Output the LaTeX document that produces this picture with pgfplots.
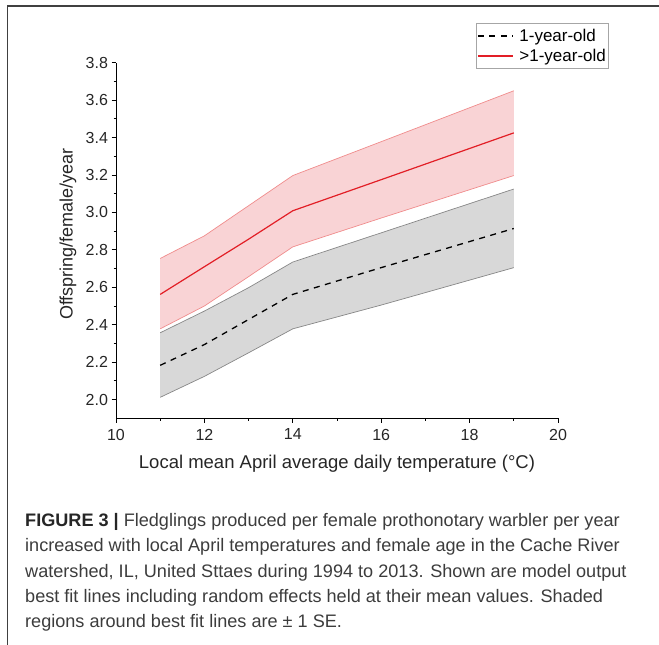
\documentclass[border=0pt]{standalone}
\usepackage{fontspec}
\setmainfont{Liberation Sans}
\usepackage{pgfplots}
\pgfplotsset{compat=1.18}
\usepackage{pgfplotstable}

\definecolor{redline}{RGB}{226,30,38}
\definecolor{redfill}{RGB}{249,211,213}
\definecolor{rededge}{RGB}{240,140,140}
\definecolor{grayfill}{RGB}{216,216,216}
\definecolor{grayedge}{RGB}{135,135,135}
\definecolor{framecol}{RGB}{64,64,64}
\definecolor{captxt}{RGB}{60,60,60}

\pgfplotstableread{
x  lo    mid   hi
11 2.378 2.562 2.754
12 2.500 2.710 2.875
13 2.657 2.857 3.036
14 2.816 3.009 3.197
16 2.970 3.175 3.378
19 3.197 3.425 3.650
}\redtab

\pgfplotstableread{
x  lo    mid   hi
11 2.012 2.183 2.357
12 2.124 2.294 2.473
13 2.250 2.428 2.598
14 2.378 2.562 2.735
16 2.505 2.705 2.891
19 2.705 2.914 3.125
}\graytab

% band outlines: upper edge left to right, lower edge right to left
\pgfplotstableread{
x  y
11 2.754
12 2.875
13 3.036
14 3.197
16 3.378
19 3.650
19 3.197
16 2.970
14 2.816
13 2.657
12 2.500
11 2.378
}\redband

\pgfplotstableread{
x  y
11 2.357
12 2.473
13 2.598
14 2.735
16 2.891
19 3.125
19 2.705
16 2.505
14 2.378
13 2.250
12 2.124
11 2.012
}\grayband

\begin{document}
\begin{tikzpicture}
\useasboundingbox (0pt,0pt) rectangle (659pt,645pt);
\draw[framecol, line width=1.3pt] (7.3pt,0pt) -- (7.3pt,639pt) -- (659pt,639pt);
\begin{axis}[
  at={(116pt,226.7pt)}, anchor=south west,
  scale only axis, width=442pt, height=355.6pt,
  xmin=10, xmax=20, ymin=1.9, ymax=3.8,
  axis lines=left, axis line style={-, line width=1pt},
  xtick={10,12,14,16,18,20},
  ytick={2.0,2.2,2.4,2.6,2.8,3.0,3.2,3.4,3.6,3.8},
  minor x tick num=1, minor y tick num=1,
  tick align=outside, major tick length=4.5pt, minor tick length=2.5pt,
  tick style={black, line width=0.8pt},
  /pgf/number format/assume math mode=true,
  tick label style={font=\fontsize{16}{19}\selectfont, text=black!85},
  yticklabel style={/pgf/number format/.cd, fixed, fixed zerofill, precision=1},
  xticklabel style={yshift=-2.5pt, /pgf/number format/.cd, fixed, precision=0},
  xlabel={Local mean April average daily temperature (°C)},
  ylabel={Offspring/female/year},
  xlabel style={at={(axis description cs:0.5,-0.142)}, anchor=base, font=\fontsize{18.5}{22}\selectfont, text=black!85},
  ylabel style={at={(axis description cs:-0.1086,0.518)}, anchor=center, font=\fontsize{18}{22}\selectfont, text=black!85},
  legend style={at={(axis description cs:0.8138,1.1108)}, anchor=north west,
    draw=gray!70, line width=0.8pt, font=\fontsize{17}{20}\selectfont,
    inner xsep=1pt, inner ysep=3.5pt, row sep=2pt},
  legend cell align=left,
  legend image code/.code={\draw[#1] (0pt,0pt) -- (35pt,0pt); \path (39pt,0pt);},
  no marks,
]
\addplot[fill=redfill, draw=none, forget plot] table[x=x,y=y]{\redband} -- cycle;
\addplot[fill=grayfill, draw=none, forget plot] table[x=x,y=y]{\grayband} -- cycle;
\addplot[draw=rededge, line width=0.7pt, forget plot] table[x=x,y=hi]{\redtab};
\addplot[draw=rededge, line width=0.7pt, forget plot] table[x=x,y=lo]{\redtab};
\addplot[draw=grayedge, line width=0.7pt, forget plot] table[x=x,y=hi]{\graytab};
\addplot[draw=grayedge, line width=0.7pt, forget plot] table[x=x,y=lo]{\graytab};
\addplot[draw=black, line width=1.3pt, dash pattern=on 6pt off 5.5pt] table[x=x,y=mid]{\graytab};
\addlegendentry{1-year-old}
\addplot[draw=redline, line width=1.2pt] table[x=x,y=mid]{\redtab};
\addlegendentry{>1-year-old}
\end{axis}
\begin{scope}[every node/.style={anchor=base west, inner sep=0pt, font=\fontsize{18.1}{21}\selectfont, text=captxt}]
\node at (25pt,118.3pt) {\textcolor{black!85}{\textbf{FIGURE 3 |}} Fledglings produced per female prothonotary warbler per year};
\node at (25pt,93pt) {increased with local April temperatures and female age in the Cache River};
\node at (25pt,67.3pt) {watershed, IL, United Sttaes during 1994 to 2013. Shown are model output};
\node at (25pt,42.3pt) {best fit lines including random effects held at their mean values. Shaded};
\node at (25pt,17.3pt) {regions around best fit lines are ± 1 SE.};
\end{scope}
\end{tikzpicture}
\end{document}
